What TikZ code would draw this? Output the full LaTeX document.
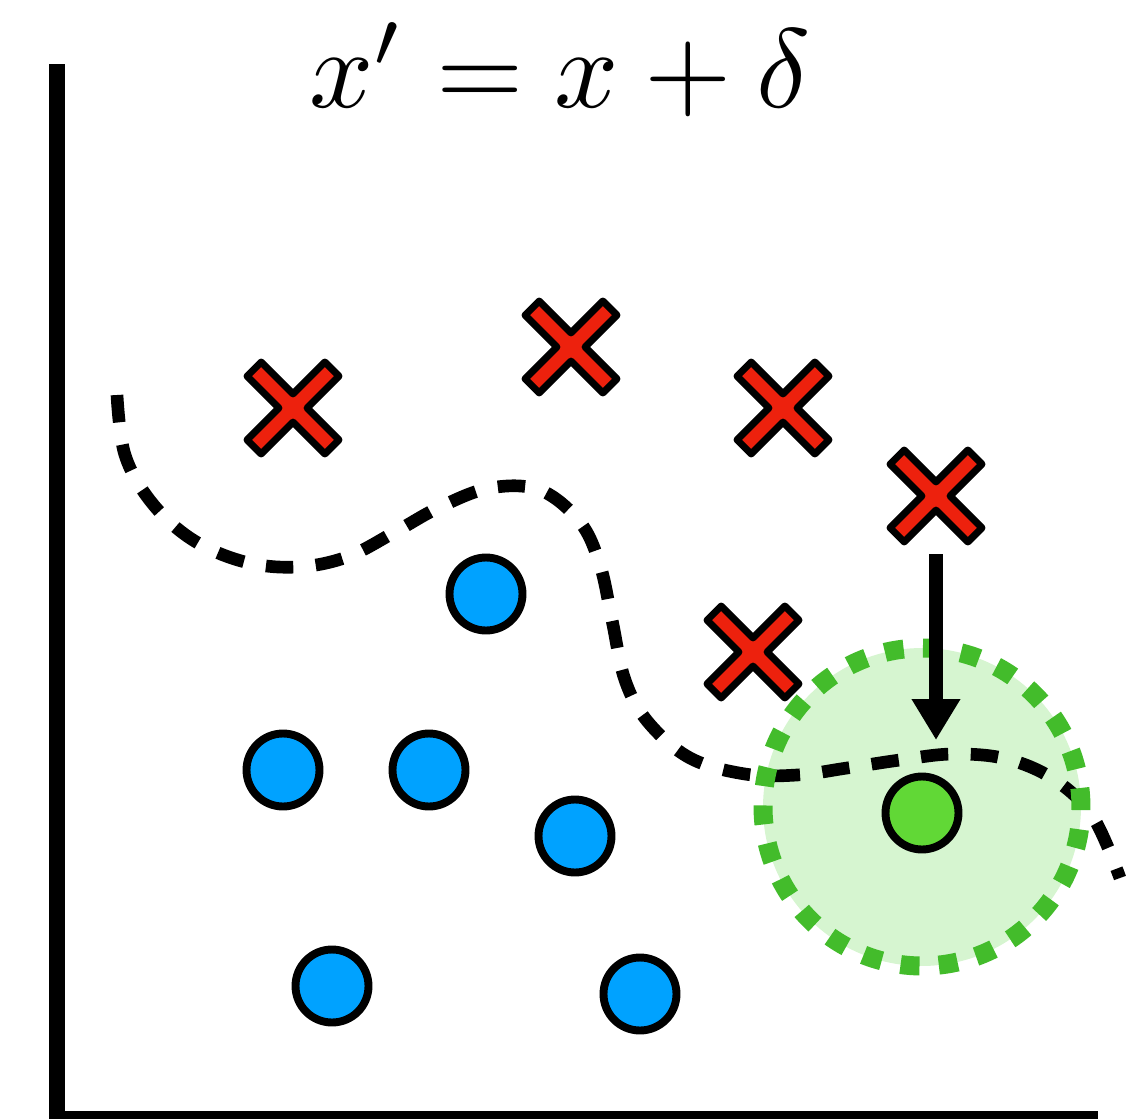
\documentclass[tikz,border=0pt]{standalone}
\usepackage{amsmath}
\usepackage{tikz}
\usetikzlibrary{shapes,arrows.meta}
\usepackage{color}
\definecolor{xred}{RGB}{237,33,13}
\definecolor{ptblue}{RGB}{0,162,255}
\definecolor{ptgreen}{RGB}{97,216,54}
\definecolor{rimgreen}{RGB}{67,188,43}
\definecolor{ballfill}{RGB}{214,245,208}
\tikzstyle{hull} = [draw=none, inner sep=0, minimum size=2.32cm]
\tikzstyle{benign} = [circle, draw=black, line width=4.5pt, fill=ptblue, inner sep=0, minimum size=1.46cm]
\tikzstyle{axis} = [line width=9.1pt, line cap=butt, line join=miter]
\tikzstyle{boundary} = [line width=7.2pt, line cap=butt, dash pattern=on 15.6pt off 12.8pt]
\tikzstyle{rim} = [draw=rimgreen, line width=10.8pt, dash pattern=on 10.8pt off 11pt]
\tikzstyle{perturb} = [line width=8pt, -{Triangle[width=0.92cm,length=0.82cm]}]
\tikzset{
  pics/cross/.style={code={
    \filldraw[fill=xred, draw=black, line width=4pt, line join=round, rotate=45]
      (10,10) -- (55,10) -- (55,-10) -- (10,-10) -- (10,-55) -- (-10,-55)
      -- (-10,-10) -- (-55,-10) -- (-55,10) -- (-10,10) -- (-10,55) -- (10,55) -- cycle;
  }}
}

\begin{document}
\begin{tikzpicture}[x=0.02cm, y=-0.02cm]
    \useasboundingbox (0,0) rectangle (1143,1119);

    % Axes and title
    \coordinate (ytop) at (57,64);
    \coordinate (origin) at (57,1119);
    \coordinate (xend) at (1098,1119);
    \draw [axis] (ytop) -- (origin) -- (xend);
    \node [inner sep=0, scale=6.4] (eq) at (560,70) {$x' = x + \delta$};

    % Epsilon ball
    \node [circle, fill=ballfill, inner sep=0, minimum size=6.36cm] (ball) at (922,807) {};

    % Decision boundary
    \draw [boundary] plot [smooth, tension=0.6] coordinates {
        (117,395) (125,455) (152,503) (193,540) (245,562) (297,567) (347,557)
        (395,532) (440,507) (490,488) (540,490) (580,522) (600,565) (612,620)
        (625,680) (648,722) (690,758) (745,774) (797,775) (847,768) (900,760)
        (953,754) (1007,759) (1055,780) (1093,817) (1120,878)};

    \draw [rim] (ball.center) circle [radius=3.18cm];

    % Drawing crosses
    \foreach \pos/\name in {{(293,408)}/c1, {(571,347)}/c2, {(783,408)}/c3,
                            {(936,496)}/adv, {(753,652)}/c5} {
        \pic at \pos {cross};
        \node [hull] (\name) at \pos {};
    }

    % Connectors
    \coordinate (shifted) at (936,740);
    \draw [perturb] (adv.south) -- (shifted);

    % Drawing circles
    \node [benign] (b1) at (486,594) {};
    \node [benign] (b2) at (283,770) {};
    \node [benign] (b3) at (429,770) {};
    \node [benign] (b4) at (575,836) {};
    \node [benign] (b5) at (332,986) {};
    \node [benign] (b6) at (640,994) {};
    \node [benign, fill=ptgreen] (orig) at (922,813) {};
\end{tikzpicture}
\end{document}
